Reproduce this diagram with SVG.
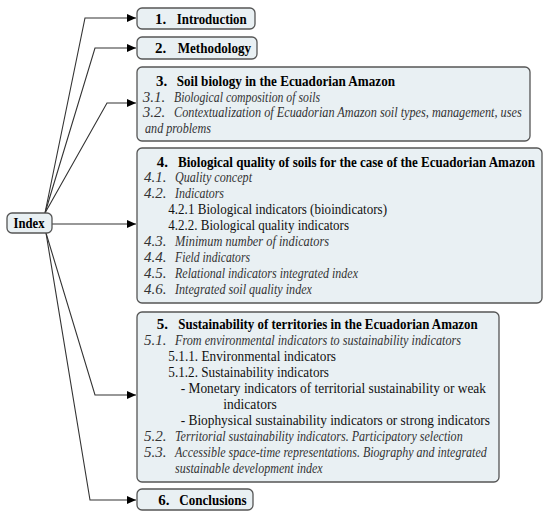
<svg xmlns="http://www.w3.org/2000/svg" width="550" height="518" viewBox="0 0 550 518">
<defs>
<marker id="ah" markerUnits="userSpaceOnUse" markerWidth="10" markerHeight="8" refX="9" refY="4" orient="auto"><path d="M0,0 L9,4 L0,8 Z" fill="#000"/></marker>
<style>
.box{fill:#e9f0f3;stroke:#555;stroke-width:1.3}
.c{fill:none;stroke:#333;stroke-width:1.1}
text{font-family:"Liberation Serif","Times New Roman",serif;font-size:15px;fill:#111}
.b{font-weight:bold;fill:#000}
.i{font-style:italic;fill:#333}
</style>
</defs>
<rect width="550" height="518" fill="#fff"/>
<g id="connectors">
<path class="c" d="M45,213 L85,18 L136,18" marker-end="url(#ah)"/>
<path class="c" d="M45,213 L95,48 L136,48" marker-end="url(#ah)"/>
<path class="c" d="M45,213 L107,103 L136,103" marker-end="url(#ah)"/>
<path class="c" d="M52,224 L136,224" marker-end="url(#ah)"/>
<path class="c" d="M46,233 L95,395 L136,395" marker-end="url(#ah)"/>
<path class="c" d="M46,233 L90,500 L136,500" marker-end="url(#ah)"/>
</g>
<g id="index">
<rect class="box" x="7" y="213" width="45" height="20" rx="5"/>
<text class="b" x="13.5" y="228" textLength="31" lengthAdjust="spacingAndGlyphs">Index</text>
</g>
<g id="n1">
<rect class="box" x="137" y="8" width="118" height="21" rx="5"/>
<text class="b" x="155" y="23.5">1.</text>
<text class="b" x="176.7" y="23.5" textLength="70" lengthAdjust="spacingAndGlyphs">Introduction</text>
</g>
<g id="n2">
<rect class="box" x="137" y="37" width="120" height="22" rx="5"/>
<text class="b" x="155" y="53">2.</text>
<text class="b" x="177.7" y="53" textLength="73.3" lengthAdjust="spacingAndGlyphs">Methodology</text>
</g>
<g id="n3">
<rect class="box" x="137" y="67" width="393" height="74" rx="5"/>
<text class="b" x="156" y="85.5">3.</text>
<text class="b" x="176.7" y="85.5" textLength="218.3" lengthAdjust="spacingAndGlyphs">Soil biology in the Ecuadorian Amazon</text>
<text class="i" x="142.7" y="101.5">3.1.</text>
<text class="i" x="174" y="101.5" textLength="146" lengthAdjust="spacingAndGlyphs">Biological composition of soils</text>
<text class="i" x="142.7" y="117">3.2.</text>
<text class="i" x="174" y="117" textLength="347.7" lengthAdjust="spacingAndGlyphs">Contextualization of Ecuadorian Amazon soil types, management, uses</text>
<text class="i" x="145" y="133" textLength="66" lengthAdjust="spacingAndGlyphs">and problems</text>
</g>
<g id="n4">
<rect class="box" x="137" y="148" width="405" height="155" rx="5"/>
<text class="b" x="156.7" y="166.5">4.</text>
<text class="b" x="178" y="166.5" textLength="357" lengthAdjust="spacingAndGlyphs">Biological quality of soils for the case of the Ecuadorian Amazon</text>
<text class="i" x="144" y="182">4.1.</text>
<text class="i" x="175" y="182" textLength="77" lengthAdjust="spacingAndGlyphs">Quality concept</text>
<text class="i" x="144" y="198">4.2.</text>
<text class="i" x="175" y="198" textLength="49" lengthAdjust="spacingAndGlyphs">Indicators</text>
<text x="168.3" y="214" textLength="218.7" lengthAdjust="spacingAndGlyphs">4.2.1 Biological indicators (bioindicators)</text>
<text x="168.3" y="230" textLength="180.7" lengthAdjust="spacingAndGlyphs">4.2.2. Biological quality indicators</text>
<text class="i" x="144" y="246">4.3.</text>
<text class="i" x="175" y="246" textLength="154" lengthAdjust="spacingAndGlyphs">Minimum number of indicators</text>
<text class="i" x="144" y="262">4.4.</text>
<text class="i" x="175" y="262" textLength="75" lengthAdjust="spacingAndGlyphs">Field indicators</text>
<text class="i" x="144" y="278">4.5.</text>
<text class="i" x="175" y="278" textLength="183" lengthAdjust="spacingAndGlyphs">Relational indicators integrated index</text>
<text class="i" x="144" y="293.5">4.6.</text>
<text class="i" x="175" y="293.5" textLength="137" lengthAdjust="spacingAndGlyphs">Integrated soil quality index</text>
</g>
<g id="n5">
<rect class="box" x="137" y="312" width="362" height="170" rx="5"/>
<text class="b" x="156.7" y="328.5">5.</text>
<text class="b" x="178.3" y="328.5" textLength="299.4" lengthAdjust="spacingAndGlyphs">Sustainability of territories in the Ecuadorian Amazon</text>
<text class="i" x="144" y="344.5">5.1.</text>
<text class="i" x="175" y="344.5" textLength="286" lengthAdjust="spacingAndGlyphs">From environmental indicators to sustainability indicators</text>
<text x="168.3" y="360.5" textLength="167.7" lengthAdjust="spacingAndGlyphs">5.1.1. Environmental indicators</text>
<text x="168.3" y="376.5" textLength="160.7" lengthAdjust="spacingAndGlyphs">5.1.2. Sustainability indicators</text>
<text x="180.7" y="392.5" textLength="305.3" lengthAdjust="spacingAndGlyphs">- Monetary indicators of territorial sustainability or weak</text>
<text x="223.3" y="408.5" textLength="53.4" lengthAdjust="spacingAndGlyphs">indicators</text>
<text x="180.7" y="424.5" textLength="309.3" lengthAdjust="spacingAndGlyphs">- Biophysical sustainability indicators or strong indicators</text>
<text class="i" x="144" y="440.5">5.2.</text>
<text class="i" x="175" y="440.5" textLength="287.7" lengthAdjust="spacingAndGlyphs">Territorial sustainability indicators. Participatory selection</text>
<text class="i" x="144" y="456.5">5.3.</text>
<text class="i" x="175" y="456.5" textLength="311.7" lengthAdjust="spacingAndGlyphs">Accessible space-time representations. Biography and integrated</text>
<text class="i" x="175" y="472.5" textLength="147.7" lengthAdjust="spacingAndGlyphs">sustainable development index</text>
</g>
<g id="n6">
<rect class="box" x="137" y="489" width="116" height="21" rx="5"/>
<text class="b" x="158.3" y="504.5">6.</text>
<text class="b" x="179.3" y="504.5" textLength="67.4" lengthAdjust="spacingAndGlyphs">Conclusions</text>
</g>
</svg>
